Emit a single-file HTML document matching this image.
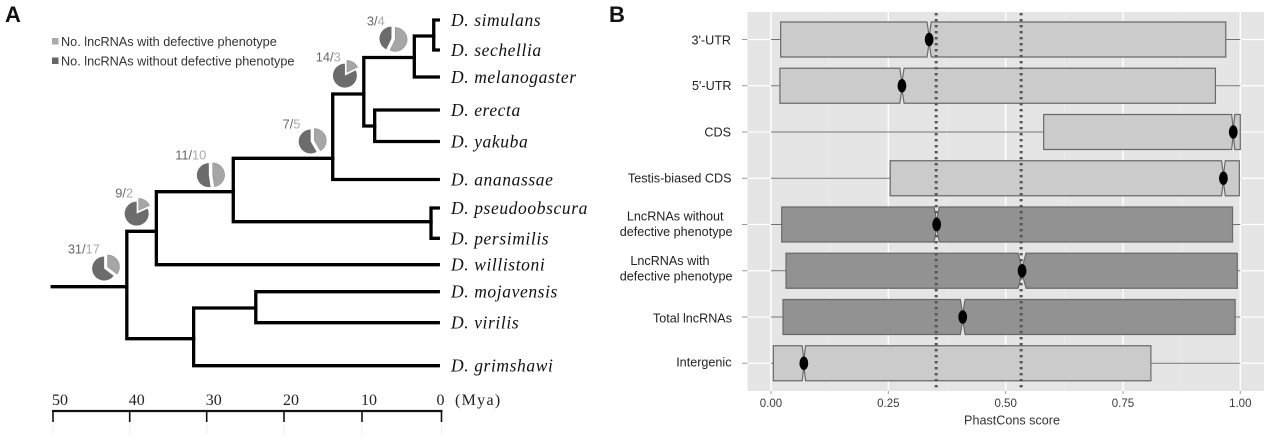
<!DOCTYPE html>
<html lang="en">
<head>
<meta charset="utf-8">
<title>Drosophila lncRNA phylogeny and PhastCons scores</title>
<style>
html,body{margin:0;padding:0;background:#fff;width:1280px;height:445px;overflow:hidden}
svg{display:block;filter:blur(0.3px)}
text{font-family:"Liberation Sans",sans-serif}
.serif{font-family:"Liberation Serif",serif}
</style>
</head>
<body>
<svg id="figure" xmlns="http://www.w3.org/2000/svg" width="1280" height="445" viewBox="0 0 1280 445">
  <text x="5" y="22" font-size="22" font-weight="bold" fill="#111">A</text>
  <text x="609" y="22" font-size="22" font-weight="bold" fill="#111">B</text>

  <g>
    <rect x="52" y="38" width="6.5" height="6.5" fill="#aaaaaa"/>
    <text x="61" y="46" font-size="12.7" fill="#333">No. lncRNAs with defective phenotype</text>
    <rect x="52" y="57.5" width="6.5" height="6.5" fill="#666666"/>
    <text x="61" y="65.5" font-size="12.7" fill="#333">No. lncRNAs without defective phenotype</text>
  </g>

  <g id="tree"></g>
  <g id="pies"></g>
  <g id="scale"></g>
  <g id="boxplot"></g>
  <text x="1012" y="424.5" font-size="12.6" text-anchor="middle" fill="#333">PhastCons score</text>
</svg>

<script>
/* ---------- Panel A data ---------- */
const cladeNames = ['drosophila','upper-clade','sophophora','melanogaster-ananassae','melanogaster-group','melanogaster-subgroup','simulans-sechellia','erecta-yakuba','obscura','hawaiian-virilis','mojavensis-virilis'];
const cladeAges = [40.5,36.7,26.8,14.0,10.0,3.5,1.0,8.6,1.35,31.9,23.9];
const cladeLanes = [28.67,23.13,19.17,15.83,9.4,5.75,3.6,12.6,22.17,33.87,30.8];
const cladeParents = [-1,0,1,2,3,4,5,4,2,0,9];
const tipNames = ['D. simulans','D. sechellia','D. melanogaster','D. erecta','D. yakuba','D. ananassae','D. pseudoobscura','D. persimilis','D. willistoni','D. mojavensis','D. virilis','D. grimshawi'];
const tipLanes = [2.0,5.0,7.7,11.0,14.15,17.95,20.8,23.83,26.47,29.17,32.27,36.57];
const tipParents = [6,6,5,7,7,3,8,8,1,10,10,9];
const tipAge = 0.2;
const stemAge = 50.1;

const pieDark = [31,9,11,7,14,3];
const pieLight = [17,2,10,5,3,4];
const pieAges = [43.2,39.1,29.7,16.6,12.3,6.2];
const pieLanes = [26.77,21.2,17.5,14.1,7.4,3.9];

const scaleTicks = [50,40,30,20,10,0];

/* ---------- Panel B data ---------- */
const categories = [["3'-UTR"],["5'-UTR"],["CDS"],["Testis-biased CDS"],["LncRNAs without","defective phenotype"],["LncRNAs with","defective phenotype"],["Total lncRNAs"],["Intergenic"]];
const groups = ['light','light','light','light','dark','dark','dark','light'];
const whiskerLow = [0,0,0,0,0,0,0,0];
const whiskerHigh = [1,1,1,1,1,1,1,1];
const q1 = [0.0206,0.019,0.581,0.254,0.0228,0.032,0.0256,0.005];
const medians = [0.337,0.279,0.985,0.964,0.353,0.535,0.4085,0.07];
const q3 = [0.969,0.947,1.0,0.998,0.9835,0.9935,0.989,0.8095];
const notchHalf = [0.0045,0.0045,0.0035,0.004,0.0055,0.0085,0.005,0.0036];
const refLines = [0.352,0.533];
const xTicks = [0,0.25,0.5,0.75,1];
const xTickText = ['0.00','0.25','0.50','0.75','1.00'];
const xMinor = [0.125,0.375,0.625,0.875];

/* ---------- Layout (not data) ---------- */
const NS = 'http://www.w3.org/2000/svg';
const labelLineEnds = [[731],[731.5],[731],[731.5],[723.5,732.5],[709.5,732.5],[732],[731.5]];
const labelLineDy = [[0.5],[0],[0],[0],[-8.5,7.2],[-10,5.3],[1],[-1]];
const pieLabelDx = [-22,-13.5,-20,-21,-17.7,-17.5];
const pieLabelDy = [-18.7,-19,-20,-17,-17,-18];

function ageX(a){return 441.5-a*7.77;}
function laneY(l){return l*10;}
function scoreX(v){return 771+v*469.3;}
function rowY(i){return 39.5+i*46.25;}

function make(tag,parent,attrs,text){
  const e=document.createElementNS(NS,tag);
  for(const k in attrs){e.setAttribute(k,attrs[k]);}
  if(text!==undefined){e.textContent=text;}
  parent.appendChild(e);
  return e;
}
const slug=s=>String(s).toLowerCase().replace(/[^a-z0-9]+/g,'-').replace(/^-|-$/g,'');

/* ---------- Tree ---------- */
const treeG=document.getElementById('tree');
const TREE={fill:'none',stroke:'#000','stroke-width':3.3,'stroke-linejoin':'miter','stroke-linecap':'square'};
cladeAges.forEach(function(age,i){
  const p=cladeParents[i];
  const d= p<0
    ? 'M'+ageX(stemAge)+' '+laneY(cladeLanes[i])+'H'+ageX(age)
    : 'M'+ageX(cladeAges[p])+' '+laneY(cladeLanes[p])+'V'+laneY(cladeLanes[i])+'H'+ageX(age);
  const e=make('path',treeG,Object.assign({d:d},TREE));
  
  
});
tipNames.forEach(function(name,i){
  const p=tipParents[i];
  const y=laneY(tipLanes[i]);
  const e=make('path',treeG,Object.assign({d:'M'+ageX(cladeAges[p])+' '+laneY(cladeLanes[p])+'V'+y+'H'+ageX(tipAge)},TREE,{'stroke-linecap':'butt'}));
  
  
  const t=make('text',treeG,{x:451,y:y+6,'font-size':17.5,'font-style':'italic','letter-spacing':0.6,fill:'#111',class:'serif'},name);
  
  
});

/* ---------- Pies ---------- */
const pieG=document.getElementById('pies');
function wedge(cx,cy,r,a0,a1,gap){
  const mid=(a0+a1)/2;
  const ox=cx+Math.sin(mid)*gap, oy=cy-Math.cos(mid)*gap;
  const large=(a1-a0)>Math.PI?1:0;
  return 'M'+ox+' '+oy+'L'+(ox+Math.sin(a0)*r)+' '+(oy-Math.cos(a0)*r)+'A'+r+' '+r+' 0 '+large+' 1 '+(ox+Math.sin(a1)*r)+' '+(oy-Math.cos(a1)*r)+'Z';
}
pieDark.forEach(function(dark,i){
  const light=pieLight[i];
  const cx=ageX(pieAges[i]), cy=laneY(pieLanes[i]);
  const split=2*Math.PI*light/(dark+light);
  const g=make('g',pieG,{});
  
  
  const d1=make('path',g,{d:wedge(cx,cy,12,split,2*Math.PI,1.9),fill:'#6c6c6c'});
  
  
  const d2=make('path',g,{d:wedge(cx,cy,12,0,split,1.9),fill:'#a6a6a6',stroke:'#8a8a8a','stroke-width':0.5});
  
  
  const t=make('text',g,{x:cx+pieLabelDx[i],y:cy+pieLabelDy[i]+4.5,'font-size':12.8,'text-anchor':'middle',fill:'#666'});
  
  
  make('tspan',t,{},dark+'/');
  make('tspan',t,{fill:'#aaa'},String(light));
});

/* ---------- Scale bar ---------- */
const scaleG=document.getElementById('scale');
const scaleXs=[53,129.7,206.7,284,362,441.5];
const scaleLine=make('line',scaleG,{x1:scaleXs[0]-1,x2:scaleXs[5]+1,y1:411,y2:411,stroke:'#111','stroke-width':2.2});


scaleTicks.forEach(function(v,i){
  const x=scaleXs[i];
  const tk=make('line',scaleG,{x1:x,x2:x,y1:411,y2:422,stroke:'#111','stroke-width':1.6});
  
  
  const f=make('line',scaleG,{x1:x,x2:x,y1:424,y2:434,stroke:'#f2f2f2','stroke-width':1.5});
  
  
  const t=make('text',scaleG,{x:x+(v===0?-1:7),y:405,'font-size':16,'text-anchor':'middle',fill:'#222',class:'serif'},String(v));
  
  
});
const unit=make('text',scaleG,{x:455,y:405,'font-size':16,'letter-spacing':1.3,fill:'#222',class:'serif'},'(Mya)');



/* ---------- Boxplot ---------- */
const bp=document.getElementById('boxplot');
const PANEL={x:747.5,y:12,w:516.5,h:379};
const bg=make('rect',bp,{x:PANEL.x,y:PANEL.y,width:PANEL.w,height:PANEL.h,fill:'#e5e5e5'});


xMinor.forEach(function(v){
  const l=make('line',bp,{x1:scoreX(v),x2:scoreX(v),y1:PANEL.y,y2:PANEL.y+PANEL.h,stroke:'#ebebeb','stroke-width':1});
  
  
});
xTicks.forEach(function(v,i){
  const x=scoreX(v);
  const l=make('line',bp,{x1:x,x2:x,y1:PANEL.y,y2:PANEL.y+PANEL.h,stroke:'#fff','stroke-width':1.4});
  
  
  const tk=make('line',bp,{x1:x,x2:x,y1:391,y2:394,stroke:'#999','stroke-width':1});
  
  
  const t=make('text',bp,{x:x,y:407,'font-size':11.5,'text-anchor':'middle',fill:'#3a3a3a'},xTickText[i]);
  
  
});
const FILL={light:'#cbcbcb',dark:'#929292'};
const H=17.5, WAIST=3;
categories.forEach(function(lines,i){
  const y=rowY(i);
  const key=slug(lines.join(' '));
  const gl=make('line',bp,{x1:PANEL.x,x2:PANEL.x+PANEL.w,y1:y,y2:y,stroke:'#fff','stroke-width':1.2});
  
  
  const tk=make('line',bp,{x1:742,x2:747.5,y1:y,y2:y,stroke:'#999','stroke-width':1});
  
  
  lines.forEach(function(s,j){
    const t=make('text',bp,{x:labelLineEnds[i][j],y:y+labelLineDy[i][j]+4.4,'font-size':12.6,'text-anchor':'end',fill:'#222'},s);
    
    
  });
  const w=make('line',bp,{x1:scoreX(whiskerLow[i]),x2:scoreX(whiskerHigh[i]),y1:y,y2:y,stroke:'#707070','stroke-width':1.1});
  
  
  const a=scoreX(q1[i]), b=scoreX(q3[i]), m=scoreX(medians[i]);
  const nl=scoreX(medians[i]-notchHalf[i]), nu=scoreX(medians[i]+notchHalf[i]);
  const d='M'+a+' '+(y-H)+'H'+nl+'L'+m+' '+(y-WAIST)+'L'+nu+' '+(y-H)+'H'+b+'V'+(y+H)+'H'+nu+'L'+m+' '+(y+WAIST)+'L'+nl+' '+(y+H)+'H'+a+'Z';
  const box=make('path',bp,{d:d,fill:FILL[groups[i]],stroke:'#6a6a6a','stroke-width':1.2,'stroke-linejoin':'miter'});
  
  
});
refLines.forEach(function(v,i){
  const x=scoreX(v);
  const l=make('line',bp,{x1:x,x2:x,y1:PANEL.y+1,y2:PANEL.y+PANEL.h-1,stroke:'#555','stroke-width':3,'stroke-dasharray':'2.4 3.6'});
  
  
});
medians.forEach(function(v,i){
  const c=make('ellipse',bp,{cx:scoreX(v),cy:rowY(i),rx:4.4,ry:6.8,fill:'#000'});
  
  
});
</script>
</body>
</html>
